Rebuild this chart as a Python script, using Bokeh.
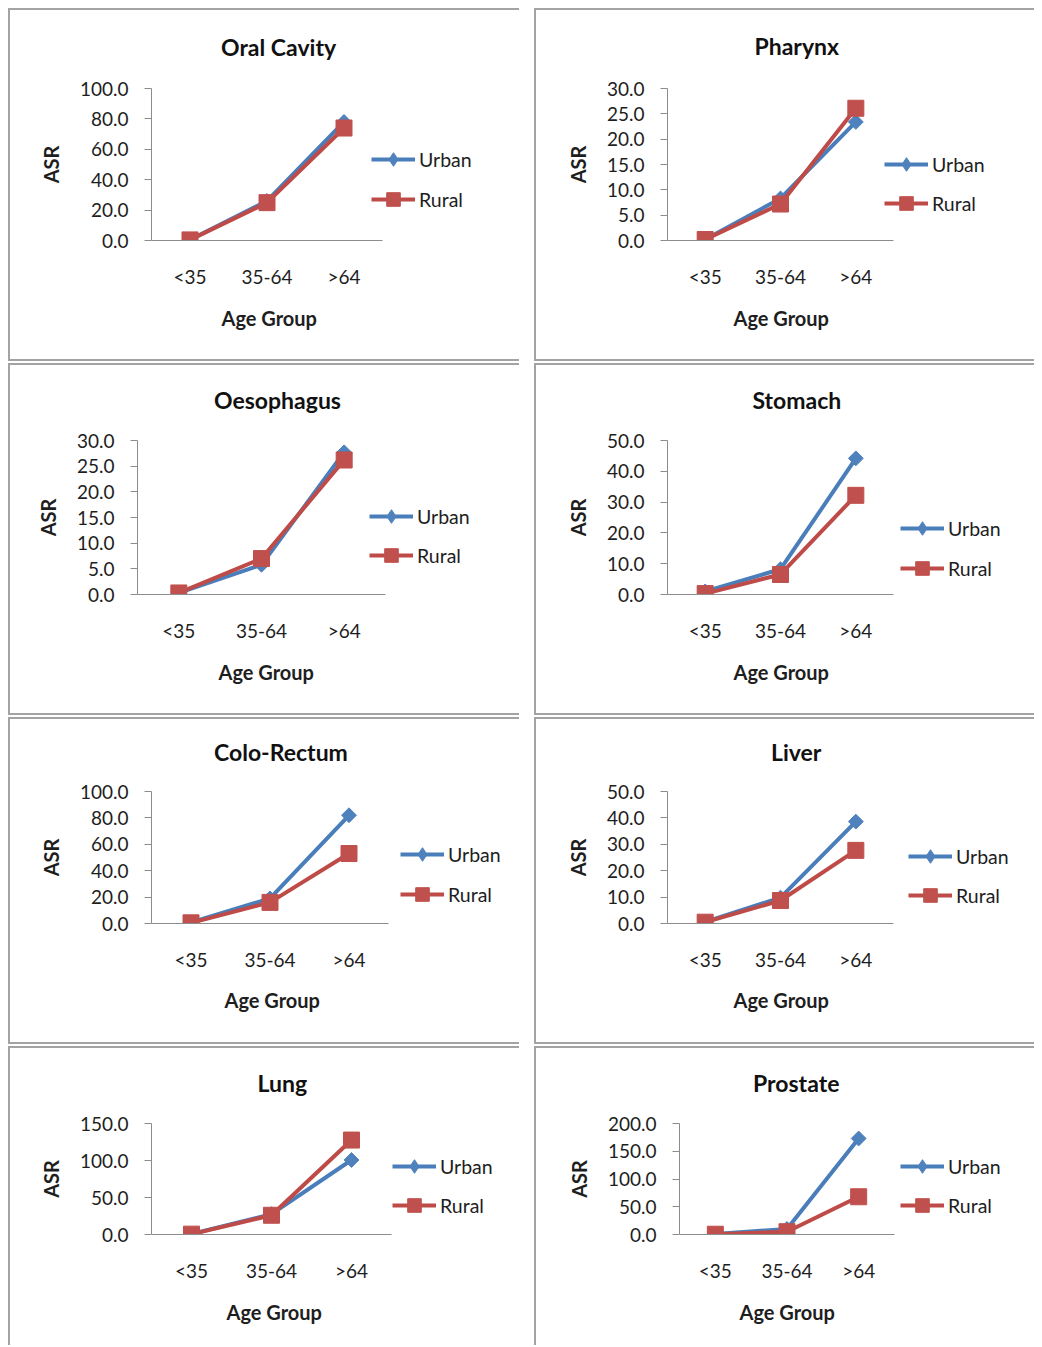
from bokeh.plotting import figure
from bokeh.models import (Range1d, FixedTicker, PrintfTickFormatter,
                          Legend, LegendItem, Title)
from bokeh.layouts import column, row
from bokeh.embed import file_html
from bokeh.resources import INLINE
import numpy as np

# ---------------- data ----------------
age_groups = ["<35", "35-64", ">64"]
sites = ["Oral Cavity", "Pharynx", "Oesophagus", "Stomach",
         "Colo-Rectum", "Liver", "Lung", "Prostate"]
series_names = ["Urban", "Rural"]

urban_oral = [0.5, 26.0, 78.0]
rural_oral = [0.4, 24.9, 74.0]
urban_pharynx = [0.2, 8.3, 23.4]
rural_pharynx = [0.2, 7.2, 26.1]
urban_oesophagus = [0.3, 5.8, 27.7]
rural_oesophagus = [0.3, 7.0, 26.2]
urban_stomach = [1.0, 8.2, 44.2]
rural_stomach = [0.3, 6.5, 32.2]
urban_colorectum = [0.8, 19.0, 82.0]
rural_colorectum = [0.5, 16.0, 53.0]
urban_liver = [0.6, 9.8, 38.6]
rural_liver = [0.5, 8.7, 27.7]
urban_lung = [0.6, 27.5, 100.7]
rural_lung = [0.5, 26.0, 127.6]
urban_prostate = [1.0, 10.0, 173.0]
rural_prostate = [0.5, 5.0, 68.0]

urban = [urban_oral, urban_pharynx, urban_oesophagus, urban_stomach,
         urban_colorectum, urban_liver, urban_lung, urban_prostate]
rural = [rural_oral, rural_pharynx, rural_oesophagus, rural_stomach,
         rural_colorectum, rural_liver, rural_lung, rural_prostate]

y_max = [100, 30, 30, 50, 100, 50, 150, 200]
y_step = [20, 5, 5, 10, 20, 10, 50, 50]
x_label = "Age Group"
y_label = "ASR"

# ---------------- layout / style ----------------
BLUE_LINE, BLUE_MARK = "#4A7EBB", "#4F81BD"
RED_LINE, RED_MARK = "#BE4B48", "#C0504D"
BORDER = "#a3a3a3"
FONT = "Lato"
TXT = "#1e1e1e"
TITLE_PX = 23
TITLE_H = 24          # approx. text-box height of the title
AXIS_TITLE_PX = 20

# canvas origin (page px), size, plot-area extents (page px), title centre,
# legend (line x0, urban y, rural y), x-axis title centre (x, y)
LAYOUT = [
    dict(cx=8,   cy=8,    w=511, h=353, fx=(151, 382), fy=(86, 240),   t=(278, 43),   leg=(371, 159, 199), ax=(268, 319)),
    dict(cx=534, cy=8,    w=500, h=353, fx=(667, 893), fy=(86, 240),   t=(796, 44),   leg=(884, 164, 203), ax=(780, 319)),
    dict(cx=8,   cy=363,  w=511, h=352, fx=(137, 385), fy=(440, 594),  t=(276, 397),  leg=(369, 516, 555), ax=(265, 673)),
    dict(cx=534, cy=363,  w=500, h=352, fx=(667, 893), fy=(440, 594),  t=(796, 397),  leg=(900, 528, 568), ax=(780, 673)),
    dict(cx=8,   cy=717,  w=511, h=327, fx=(151, 388), fy=(791, 923),  t=(280, 749),  leg=(400, 854, 894), ax=(271, 1001)),
    dict(cx=534, cy=717,  w=500, h=327, fx=(667, 893), fy=(791, 923),  t=(795, 749),  leg=(908, 856, 895), ax=(780, 1001)),
    dict(cx=8,   cy=1046, w=511, h=299, fx=(151, 391), fy=(1122, 1234), t=(281, 1080), leg=(392, 1166, 1205), ax=(273, 1313)),
    dict(cx=534, cy=1046, w=500, h=299, fx=(679, 894), fy=(1123, 1234), t=(795, 1080), leg=(900, 1166, 1205), ax=(786, 1313)),
]
# approximate rendered widths (px) of the bold titles at TITLE_PX
TITLE_W = [115, 84, 125, 88, 133, 49, 48, 85]
AXIS_TITLE_W = 94

GLYPH_H = 34


def make_panel(i):
    L = LAYOUT[i]
    fx0, fx1 = L["fx"]
    fy0, fy1 = L["fy"]
    cat_w = (fx1 - fx0) / len(age_groups)
    ext = min(fx1 + 125, L["cx"] + L["w"] - 3)   # plot frame extended to hold the legend
    left = fx0 - L["cx"]
    fw = ext - fx0
    right = L["w"] - left - fw
    top = fy0 - L["cy"]
    fh = fy1 - fy0
    bottom = L["h"] - top - fh

    last_row = i >= 6
    shadow = (f"inset 2px 2px 0 0 {BORDER}" if last_row
              else f"inset 2px 2px 0 0 {BORDER}, inset 0 -2px 0 0 {BORDER}")

    n = len(age_groups)
    x_pos = [k + 0.5 for k in range(n)]
    p = figure(width=L["w"], height=L["h"],
               x_range=Range1d(0, fw / cat_w),
               y_range=Range1d(0, y_max[i]),
               output_backend="svg", toolbar_location=None,
               min_border_left=left, min_border_right=right,
               min_border_top=top, min_border_bottom=bottom,
               styles={"box-shadow": shadow})
    p.border_fill_color = None
    p.background_fill_color = None
    p.outline_line_color = None
    p.xgrid.visible = False
    p.ygrid.visible = False
    p.title.text = ""

    # small blank spacer next to the plot area, then the chart title above it
    tx, ty = L["t"]
    centre = ty - L["cy"]
    sp = max(top - 2 - 2 * centre, 4)
    p.add_layout(Title(text=" ", text_font_size="1px", standoff=max(sp - 7, 0),
                       text_color="#ffffff"), "above")
    p.add_layout(Title(text=sites[i], align="left", vertical_align="top",
                       offset=tx - fx0 - TITLE_W[i] / 2,
                       standoff=top - sp - 2 - TITLE_H - 1,
                       text_font=FONT, text_font_style="bold",
                       text_font_size=f"{TITLE_PX}px", text_color="#111111"), "above")

    # axes
    ticks = list(np.arange(0, y_max[i] + y_step[i] / 2, y_step[i]))
    p.yaxis.ticker = FixedTicker(ticks=ticks)
    p.yaxis.formatter = PrintfTickFormatter(format="%.1f")
    p.xaxis.ticker = FixedTicker(ticks=x_pos)
    p.xaxis.major_label_overrides = {x: g for x, g in zip(x_pos, age_groups)}
    p.xaxis.bounds = (0, n)
    for ax in (p.xaxis[0], p.yaxis[0]):
        ax.axis_line_color = "#8c8c8c"
        ax.axis_line_width = 1
        ax.minor_tick_line_color = None
        ax.major_label_text_font = FONT
        ax.major_label_text_font_size = "19px"
        ax.major_label_text_color = TXT
        ax.axis_label_text_font = FONT
        ax.axis_label_text_font_style = "bold"
        ax.axis_label_text_font_size = f"{AXIS_TITLE_PX}px"
        ax.axis_label_text_color = TXT
    p.yaxis.major_tick_line_color = "#8c8c8c"
    p.yaxis.major_tick_in = 0
    p.yaxis.major_tick_out = 7
    p.yaxis.major_label_standoff = 16
    p.yaxis.axis_label = y_label
    p.yaxis.axis_label_standoff = 14
    p.xaxis.major_tick_line_color = None
    p.xaxis.major_tick_in = 0
    p.xaxis.major_tick_out = 0
    p.xaxis.major_label_standoff = 24

    # x-axis title, centred under the plot area (not under the legend)
    axx, axy = L["ax"]
    p.add_layout(Title(text=x_label, align="left", vertical_align="top",
                       offset=axx - fx0 - AXIS_TITLE_W / 2,
                       standoff=max(2 * (axy - fy1 - 64), 0),
                       text_font=FONT, text_font_style="bold",
                       text_font_size=f"{AXIS_TITLE_PX}px", text_color=TXT), "below")

    # series
    lu = p.line(x_pos, urban[i], line_color=BLUE_LINE, line_width=4)
    su = p.scatter(x_pos, urban[i], marker="square", angle=np.pi / 4, size=10.5,
                   fill_color=BLUE_MARK, line_color=BLUE_MARK)
    lr = p.line(x_pos, rural[i], line_color=RED_LINE, line_width=4)
    sr = p.scatter(x_pos, rural[i], marker="square", size=16,
                   fill_color=RED_MARK, line_color=RED_MARK)
    # legend key for the diamond marker (the legend does not rotate markers);
    # it holds no drawable point
    su_key = p.scatter(x=np.array([np.nan]), y=np.array([np.nan]), marker="diamond",
                       fill_color=BLUE_MARK, line_color=BLUE_MARK)

    # legend (inside the extended frame, right of the data)
    lx0, uy, ry = L["leg"]
    legend = Legend(items=[LegendItem(label=series_names[0], renderers=[lu, su_key]),
                           LegendItem(label=series_names[1], renderers=[lr, sr])],
                    location=(lx0 - fx0, fy1 - (ry + GLYPH_H / 2)),
                    orientation="vertical",
                    glyph_width=44, glyph_height=GLYPH_H, label_height=GLYPH_H,
                    spacing=(ry - uy) - GLYPH_H, label_standoff=4,
                    padding=0, margin=0,
                    border_line_color=None, background_fill_color=None,
                    label_text_font=FONT, label_text_font_size="19.5px",
                    label_text_color=TXT)
    p.add_layout(legend, "center")
    return p


panels = [make_panel(i) for i in range(8)]
rows = [row(panels[2 * r], panels[2 * r + 1], spacing=15) for r in range(4)]
layout = column(*rows, spacing=2, margin=(8, 0, 0, 8))

open("out.html", "w").write(file_html(layout, INLINE))
